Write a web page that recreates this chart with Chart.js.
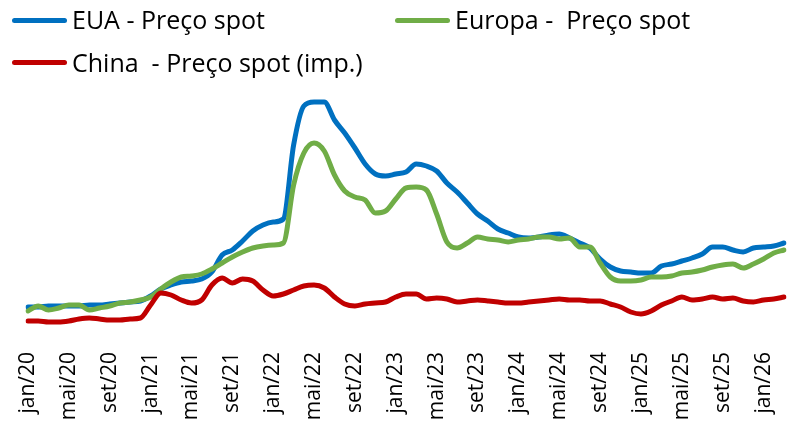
<!DOCTYPE html>
<html>
<head>
<meta charset="utf-8">
<script src="https://cdn.jsdelivr.net/npm/chart.js@4.4.1/dist/chart.umd.min.js"></script>
<style>
  html, body { margin: 0; padding: 0; background: #fff; }
  #wrap { position: relative; width: 788px; height: 421px; }
  #wrap canvas { position: absolute; left: 0; top: 0; }
  .lg-line { position: absolute; height: 5px; width: 55px; border-radius: 3px; }
  .lg-text { position: absolute; font-family: "Open Sans", sans-serif; font-size: 25px; line-height: 25px; color: #000; white-space: pre; }
</style>
</head>
<body>
<div id="wrap">
  <canvas id="c" width="788" height="421"></canvas>
  <div class="lg-line" style="left:12px; top:18px; background:#0070C0"></div>
  <div class="lg-text" style="left:72px; top:7px">EUA - Preço spot</div>
  <div class="lg-line" style="left:395px; top:18px; background:#70AD47"></div>
  <div class="lg-text" style="left:455px; top:7px">Europa -  Preço spot</div>
  <div class="lg-line" style="left:12px; top:60px; background:#C00000"></div>
  <div class="lg-text" style="left:72px; top:50px">China  - Preço spot (imp.)</div>
</div>
<script>
// Month names (pt-BR) and years for the category axis
const monthNames = ['jan','fev','mar','abr','mai','jun','jul','ago','set','out','nov','dez'];
const years = ['20','21','22','23','24','25','26'];
const lastMonthIndex = 74; // jan/20 ... mar/26

const categories = [];
for (let i = 0; i <= lastMonthIndex; i++) {
  categories.push(monthNames[i % 12] + '/' + years[Math.floor(i / 12)]);
}

// Series values (relative units)
const euaSpot = [
  33,33,34,34,34,34,35,35,36,37,38,39,
  44,51,55,58,59,61,68,85,90,99,109,115,
  118,121,195,234,238,238,220,207,192,176,166,164,
  166,168,176,174,169,157,148,137,126,119,111,107,
  103,102,103,105,106,102,97,92,81,73,69,68,
  67,67,74,76,79,82,86,93,93,90,88,92,
  93,94,97
];
const europaSpot = [
  29,34,30,32,35,35,30,32,34,37,38,40,
  43,51,58,63,64,66,71,77,83,88,92,94,
  95,97,155,187,197,189,165,149,143,140,127,129,
  141,152,153,150,126,98,92,97,103,101,100,98,
  100,101,103,103,101,102,93,93,77,63,59,59,
  60,63,63,64,67,68,70,73,75,76,72,76,
  81,87,90
];
const chinaSpot = [
  19,19,18,18,19,21,22,21,20,20,21,22,
  35,47,45,40,37,40,55,62,57,61,59,50,
  44,46,50,54,55,52,43,36,34,36,37,38,
  43,46,46,41,42,41,38,39,40,39,38,37,
  37,38,39,40,41,40,40,39,39,36,33,28,
  26,29,35,39,43,40,41,43,41,42,39,38,
  40,41,43
];

const seriesNames = ['EUA - Preço spot', 'Europa -  Preço spot', 'China  - Preço spot (imp.)'];
const seriesColors = ['#0070C0', '#70AD47', '#C00000'];

function ds(label, data, color) {
  return {
    label, data,
    borderColor: color,
    backgroundColor: color,
    borderWidth: 5,
    pointRadius: 0,
    pointHoverRadius: 0,
    cubicInterpolationMode: 'monotone',
    borderCapStyle: 'round',
    borderJoinStyle: 'round',
    fill: false
  };
}

new Chart(document.getElementById('c'), {
  type: 'line',
  data: {
    labels: categories,
    datasets: [
      ds(seriesNames[2], chinaSpot, seriesColors[2]),
      ds(seriesNames[1], europaSpot, seriesColors[1]),
      ds(seriesNames[0], euaSpot, seriesColors[0])
    ]
  },
  options: {
    responsive: false,
    animation: false,
    events: [],
    layout: { padding: { top: 80, left: 28, right: 4, bottom: 0 } },
    plugins: { legend: { display: false }, tooltip: { enabled: false } },
    scales: {
      x: {
        offset: false,
        grid: { display: false, drawTicks: false },
        border: { display: false },
        ticks: {
          autoSkip: false,
          maxRotation: 90,
          minRotation: 90,
          padding: 12,
          color: '#000',
          font: { family: 'Open Sans', size: 21 },
          callback: function (v, i) { return i % 4 === 0 ? categories[i] : ''; }
        },
        afterFit: function (axis) {
          axis.height = 81;
          axis.paddingLeft = 0;
          axis.paddingRight = 0;
        }
      },
      y: {
        display: false,
        min: 0,
        max: 260
      }
    }
  }
});
</script>
</body>
</html>
